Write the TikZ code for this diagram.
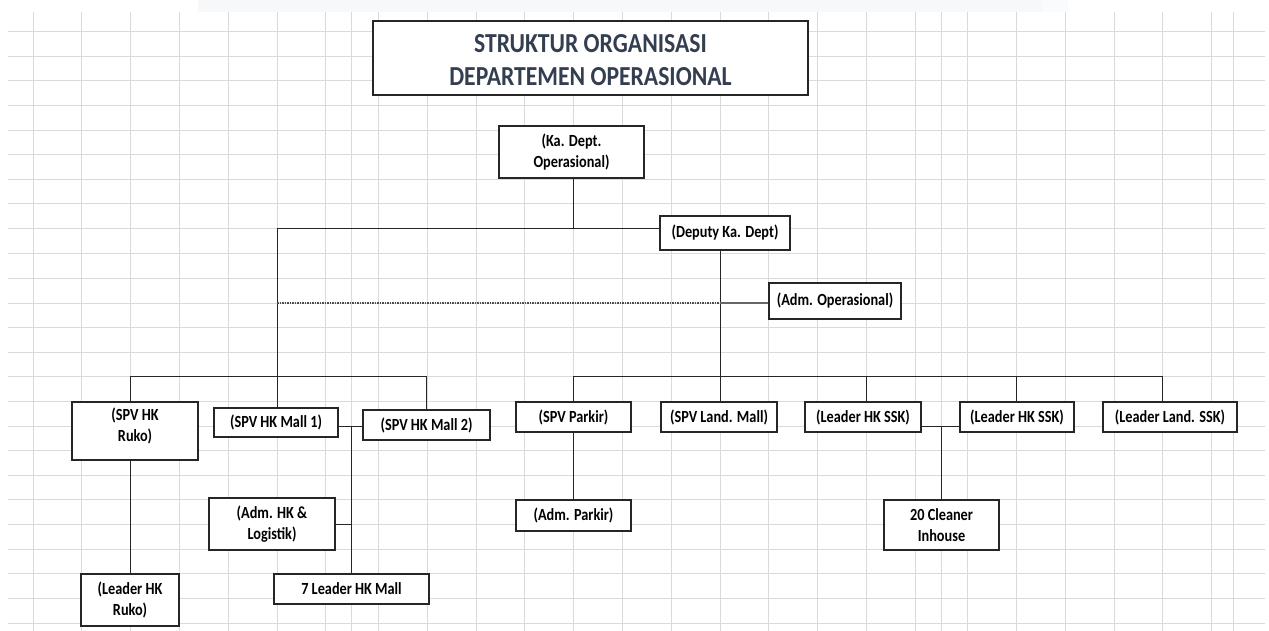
\documentclass[tikz,border=0pt]{standalone}
\usepackage{fontspec}
\newfontfamily\cfnode[FakeStretch=0.84]{Carlito}
\newfontfamily\cftitle[FakeStretch=0.86]{Carlito}
\definecolor{gridc}{HTML}{DADADA}
\definecolor{titlec}{HTML}{333F50}
\definecolor{bandc}{HTML}{F7F8FA}
\definecolor{linec}{HTML}{262626}
\begin{document}
\begin{tikzpicture}[x=1pt,y=-1pt,
  box/.style={draw=linec, fill=white, line width=1.2pt, inner sep=0pt, align=center,
    font=\cfnode\bfseries\fontsize{17}{21}\selectfont},
  conn/.style={draw=linec, line width=1pt},
  dotline/.style={draw=black!70, line width=1.1pt, dash pattern=on 1.5pt off 1pt},
  gridline/.style={draw=gridc, line width=1pt}]
\useasboundingbox (0,0) rectangle (1269,631);
\fill[white] (0,0) rectangle (1269,631);
\fill[bandc] (198,0) rectangle (1042,12);
\fill[bandc!60] (1042,0) rectangle (1068,12);
% grid
\foreach \gx in {33,81,130,179,228,277,325,351,378,427,476,524,573,622,671,720,768,817,866,915,941,967,1016,1065,1114,1162,1211,1233}
  \draw[gridline] (\gx,12) -- (\gx,631);
\foreach \gy in {32,57,81,106,131,155,180,204,229,253,278,303,327,352,376,401,426,450,475,499,524,549,573,598,623}
  \draw[gridline] (8,\gy) -- (1265,\gy);

% title
\node[draw=linec, fill=white, line width=1.2pt, minimum width=435pt, minimum height=74pt, inner sep=0pt,
  align=center, text=titlec, font=\cftitle\bfseries\fontsize{27.5}{33}\selectfont]
  (title) at (590.5,58) {\raisebox{-4pt}[\height][\depth]{\begin{tabular}{@{}c@{}}STRUKTUR ORGANISASI\\DEPARTEMEN OPERASIONAL\end{tabular}}};

% nodes
\node[box, minimum width=145pt, minimum height=52pt] (ka) at (571.5,152) {(Ka. Dept.\\Operasional)};
\node[box, minimum width=130pt, minimum height=34pt] (deputy) at (725,233) {(Deputy Ka. Dept)};
\node[box, minimum width=132pt, minimum height=36pt] (admop) at (835,301) {(Adm. Operasional)};
\node[box, minimum width=126pt, minimum height=58pt] (ruko) at (135,431) {\raisebox{4.5pt}[\height][\depth]{\begin{tabular}{@{}c@{}}(SPV HK\\Ruko)\end{tabular}}};
\node[box, minimum width=124pt, minimum height=29pt] (mall1) at (276,422.5) {(SPV HK Mall 1)};
\node[box, minimum width=127pt, minimum height=30pt] (mall2) at (426.5,425) {(SPV HK Mall 2)};
\node[box, minimum width=126pt, minimum height=52pt] (admhk) at (272,524) {(Adm. HK \&\\Logistik)};
\node[box, minimum width=155pt, minimum height=30pt] (lead7) at (351.5,589) {7 Leader HK Mall};
\node[box, minimum width=98pt, minimum height=52pt] (leadruko) at (130,600) {(Leader HK\\Ruko)};
\node[box, minimum width=115pt, minimum height=30pt] (parkir) at (573.5,417) {(SPV Parkir)};
\node[box, minimum width=116pt, minimum height=30pt] (landmall) at (719,417) {(SPV Land. Mall)};
\node[box, minimum width=116pt, minimum height=30pt] (ssk1) at (863,417) {(Leader HK SSK)};
\node[box, minimum width=114pt, minimum height=30pt] (ssk2) at (1017,417) {(Leader HK SSK)};
\node[box, minimum width=134pt, minimum height=30pt] (landssk) at (1170,417) {(Leader Land. SSK)};
\node[box, minimum width=115pt, minimum height=31pt] (admparkir) at (573.5,515.5) {(Adm. Parkir)};
\node[box, minimum width=115pt, minimum height=50pt] (cleaner) at (941.5,525) {20 Cleaner\\Inhouse};

% junction coordinates
\coordinate (hl) at (277,229);
\coordinate (kj) at (573,229);
\coordinate (bl) at (277,376);
\coordinate (l1) at (130,376);
\coordinate (l3) at (426,376);
\coordinate (jm) at (351,426);
\coordinate (dv) at (720,251);
\coordinate (d2) at (720,303);
\coordinate (dl) at (277,303);
\coordinate (br) at (720,376);
\coordinate (r1) at (573,376);
\coordinate (r3) at (866,376);
\coordinate (r4) at (1016,376);
\coordinate (r5) at (1162,376);
\coordinate (jc) at (941,426);

% connectors
\draw[conn] (ka.south -| kj) -- (kj);
\draw[conn] (hl) -- (deputy.west |- hl);
\draw[conn] (hl) -- (bl);
\draw[conn] (l1) -- (l3);
\draw[conn] (l1) -- (l1 |- ruko.north);
\draw[conn] (bl) -- (bl |- mall1.north);
\draw[conn] (l3) -- (l3 |- mall2.north);
\draw[conn] (ruko.south -| l1) -- (leadruko.north -| l1);
\draw[conn] (mall1.east |- jm) -- (mall2.west |- jm);
\draw[conn] (jm) -- (jm |- lead7.north);
\draw[conn] (admhk.east) -- (admhk.east -| jm);
\draw[conn] (dv) -- (br);
\draw[dotline] (dl) -- (d2);
\draw[draw=black!60, line width=1.5pt] (d2) -- (admop.west |- d2);
\draw[conn] (r1) -- (r5);
\draw[conn] (r1) -- (r1 |- parkir.north);
\draw[conn] (br) -- (br |- landmall.north);
\draw[conn] (r3) -- (r3 |- ssk1.north);
\draw[conn] (r4) -- (r4 |- ssk2.north);
\draw[conn] (r5) -- (r5 |- landssk.north);
\draw[conn] (parkir.south -| r1) -- (admparkir.north -| r1);
\draw[conn] (ssk1.east |- jc) -- (ssk2.west |- jc);
\draw[conn] (jc) -- (jc |- cleaner.north);
\end{tikzpicture}
\end{document}
